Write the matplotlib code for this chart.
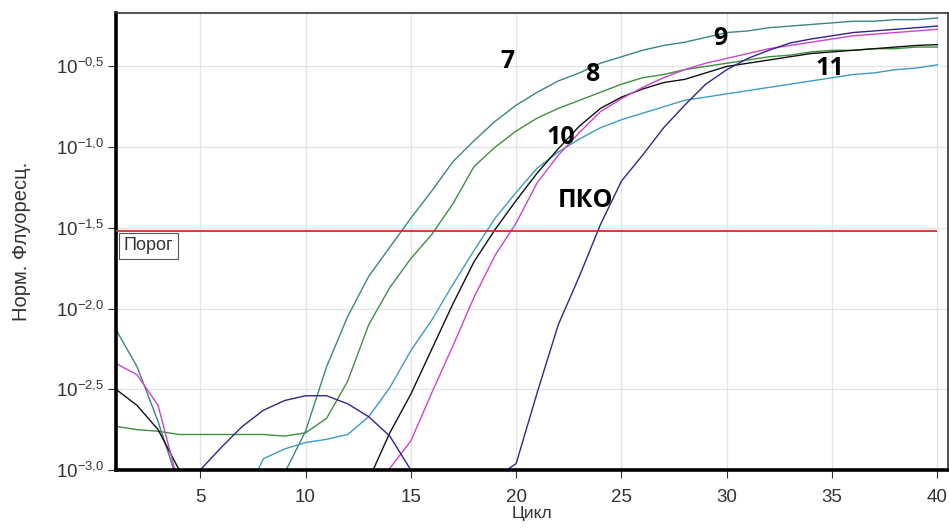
import numpy as np
import matplotlib
matplotlib.use("Agg")
import matplotlib.pyplot as plt
import matplotlib.transforms as mtransforms

plt.rcParams['font.family'] = ['Liberation Sans', 'DejaVu Sans']
plt.rcParams['mathtext.fontset'] = 'custom'
plt.rcParams['mathtext.rm'] = 'Liberation Sans'
plt.rcParams['mathtext.it'] = 'Liberation Sans:italic'
plt.rcParams['mathtext.bf'] = 'Liberation Sans:bold'

cycles = np.arange(1, 41)

# log10 of the normalised fluorescence, read off the picture cycle by cycle
# (values under -3 lie below the visible area)
teal = [-2.13, -2.36, -2.70, -3.10, -3.5, -3.5, -3.5, -3.5, -3.02, -2.76,
        -2.36, -2.05, -1.80, -1.62, -1.44, -1.27, -1.09, -0.96, -0.84, -0.74,
        -0.66, -0.59, -0.54, -0.48, -0.44, -0.40, -0.37, -0.35, -0.32, -0.29,
        -0.28, -0.26, -0.25, -0.24, -0.23, -0.22, -0.22, -0.21, -0.21, -0.20]
green = [-2.73, -2.75, -2.76, -2.78, -2.78, -2.78, -2.78, -2.78, -2.79, -2.77,
         -2.68, -2.45, -2.10, -1.87, -1.69, -1.54, -1.35, -1.12, -1.00, -0.90,
         -0.82, -0.76, -0.71, -0.66, -0.61, -0.57, -0.55, -0.52, -0.50, -0.48,
         -0.46, -0.44, -0.43, -0.41, -0.40, -0.40, -0.39, -0.39, -0.38, -0.38]
light_blue = [-3.5, -3.5, -3.5, -3.5, -3.5, -3.5, -3.20, -2.93, -2.87, -2.83,
              -2.81, -2.78, -2.67, -2.49, -2.26, -2.07, -1.85, -1.64, -1.44, -1.28,
              -1.13, -1.03, -0.95, -0.88, -0.83, -0.79, -0.75, -0.71, -0.69, -0.67,
              -0.65, -0.63, -0.61, -0.59, -0.57, -0.55, -0.54, -0.52, -0.51, -0.49]
black = [-2.50, -2.60, -2.75, -3.00, -3.4, -3.5, -3.5, -3.5, -3.5, -3.5,
         -3.5, -3.5, -3.06, -2.77, -2.53, -2.25, -1.97, -1.71, -1.51, -1.33,
         -1.16, -1.01, -0.87, -0.76, -0.69, -0.64, -0.60, -0.58, -0.54, -0.50,
         -0.48, -0.46, -0.44, -0.42, -0.41, -0.40, -0.39, -0.38, -0.37, -0.365]
magenta = [-2.34, -2.41, -2.60, -3.10, -3.5, -3.5, -3.5, -3.5, -3.5, -3.5,
           -3.5, -3.5, -3.5, -2.99, -2.82, -2.52, -2.23, -1.93, -1.67, -1.47,
           -1.22, -1.05, -0.91, -0.78, -0.70, -0.63, -0.57, -0.52, -0.48, -0.45,
           -0.42, -0.39, -0.37, -0.35, -0.33, -0.31, -0.30, -0.29, -0.28, -0.27]
pko = [-3.5, -3.5, -3.5, -3.4, -3.00, -2.86, -2.73, -2.63, -2.57, -2.54,
       -2.54, -2.59, -2.67, -2.79, -3.00, -3.4, -3.5, -3.5, -3.05, -2.96,
       -2.52, -2.10, -1.80, -1.48, -1.21, -1.05, -0.88, -0.74, -0.61, -0.52,
       -0.45, -0.40, -0.355, -0.33, -0.31, -0.29, -0.28, -0.27, -0.26, -0.25]

threshold = -1.52

ytick_logs = [-3.0, -2.5, -2.0, -1.5, -1.0, -0.5]
ytick_labels = ['$10^{-3{,}0}$', '$10^{-2{,}5}$', '$10^{-2{,}0}$',
                '$10^{-1{,}5}$', '$10^{-1{,}0}$', '$10^{-0{,}5}$']
xticks = [5, 10, 15, 20, 25, 30, 35, 40]

fig = plt.figure(figsize=(9.49, 5.31), dpi=100)
ax = fig.add_axes([0.1222, 0.1149, 0.8767, 0.8612])
ax.set_yscale('log')

series = [(teal, '#3a8585'), (green, '#3f8f3f'), (light_blue, '#3d9cc0'),
          (black, '#111111'), (magenta, '#cc44cc'), (pko, '#32268a')]
for vals, col in series:
    ax.plot(cycles, 10 ** np.array(vals), color=col, lw=1.0)

ax.hlines(10 ** threshold, 1, 40, color='#d02a2a', lw=1.3, zorder=3)
trans = mtransforms.blended_transform_factory(ax.transAxes, ax.transData)
ax.text(0.009, 10 ** (threshold - 0.092), 'Порог', fontsize=13, color='#333333',
        va='center', ha='left', transform=trans,
        bbox=dict(boxstyle='square,pad=0.25', fc='white', ec='#555555', lw=0.8))

# curve labels
for txt, cx, cy in [('7', 19.6, -0.47), ('8', 23.6, -0.55), ('9', 29.7, -0.325),
                    ('10', 22.1, -0.94), ('11', 34.9, -0.51), ('ПКО', 23.3, -1.33)]:
    ax.text(cx, 10 ** cy, txt, fontsize=18, fontweight='bold',
            family=['Open Sans', 'DejaVu Sans'], ha='center', va='center')

ax.set_xlim(1, 40.5)
ax.set_ylim(10 ** -3.0, 10 ** -0.167)
ax.set_xticks(xticks)
ax.set_yticks([10 ** v for v in ytick_logs])
ax.set_yticklabels(ytick_labels)
ax.yaxis.set_minor_locator(matplotlib.ticker.NullLocator())
ax.tick_params(axis='both', labelsize=13.5, colors='#333333', length=6, width=0.8)
ax.tick_params(axis='x', pad=8)
ax.tick_params(axis='y', pad=2)

ax.grid(True, color='#e3e3e3', lw=0.9)
ax.set_axisbelow(True)
for side in ['left', 'bottom']:
    ax.spines[side].set_linewidth(2.6)
    ax.spines[side].set_color('black')
for side in ['top', 'right']:
    ax.spines[side].set_linewidth(1.2)
    ax.spines[side].set_color('#333333')

ax.set_xlabel('Цикл', fontsize=12.5, color='#333333', labelpad=0)
ax.set_ylabel('Норм. Флуоресц.', fontsize=14.5, color='#333333', labelpad=18)

fig.savefig('out.png', dpi=100)
